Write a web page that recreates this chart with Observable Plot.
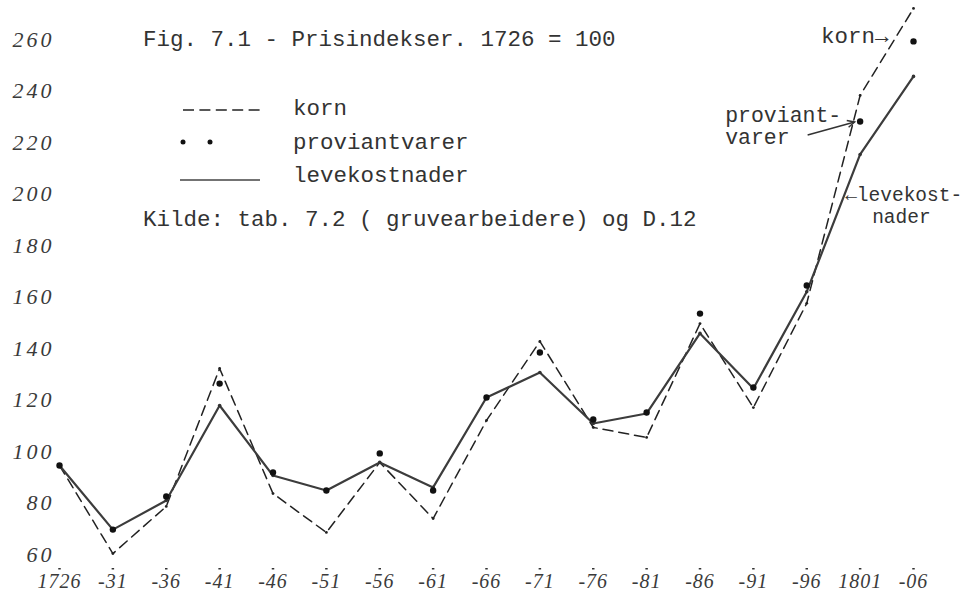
<!DOCTYPE html>
<html>
<head>
<meta charset="utf-8">
<script src="https://cdn.jsdelivr.net/npm/d3@7"></script>
<script src="https://cdn.jsdelivr.net/npm/@observablehq/plot@0.6"></script>
<style>
  html, body { margin: 0; padding: 0; background: #fff; }
  #wrap { position: relative; width: 977px; height: 595px; overflow: hidden; }
  #wrap > svg { position: absolute; left: 0; top: 0; }
  [aria-label="y-axis tick label"] text { letter-spacing: 3px; }
  [aria-label="x-axis tick label"] text { letter-spacing: 1px; }
</style>
</head>
<body>
<div id="wrap"></div>
<script>
// ---- data ----
const years = [1726, 1731, 1736, 1741, 1746, 1751, 1756, 1761, 1766, 1771, 1776, 1781, 1786, 1791, 1796, 1801, 1806];
const xTickLabels = ["1726", "-31", "-36", "-41", "-46", "-51", "-56", "-61", "-66", "-71", "-76", "-81", "-86", "-91", "-96", "1801", "-06"];
const yTicks = [60, 80, 100, 120, 140, 160, 180, 200, 220, 240, 260];
const seriesNames = ["korn", "proviantvarer", "levekostnader"];
const korn          = [100, 65.8, 84.1, 137.7, 89.1, 74.0, 101.2, 79.4, 117.5, 148.2, 114.8, 110.9, 155.1, 122.5, 163.0, 243.7, 277.5];
const proviantvarer = [100, 75.1, 88.0, 131.8, 97.3, 90.3, 104.7, 90.3, 126.4, 143.9, 117.9, 120.6, 159.0, 130.3, 169.9, 233.6, 264.7];
const levekostnader = [100, 75.1, 86.4, 123.3, 96.1, 90.3, 101.2, 91.5, 126.4, 136.1, 116.3, 120.2, 151.3, 129.9, 167.5, 220.8, 251.1];
const titleText = "Fig. 7.1 - Prisindekser. 1726 = 100";
const sourceText = "Kilde: tab. 7.2 ( gruvearbeidere) og D.12";

const rows = years.map((year, i) => ({year, korn: korn[i], prov: proviantvarer[i], lev: levekostnader[i]}));
const last = rows[rows.length - 1];
const prev = rows[rows.length - 2];

const mono = "'Liberation Mono', 'DejaVu Sans Mono', monospace";
const hand = "'Liberation Serif', 'DejaVu Serif', serif";
const ink = "#333";
const fs = 22.5;

const arrowMark = (index, scales) => {
  const x = scales.x(prev.year), y = scales.y(prev.prov);
  const x1 = x - 52, y1 = y + 14, x2 = x - 5, y2 = y + 1;
  const a = Math.atan2(y2 - y1, x2 - x1);
  const g = d3.create("svg:g").attr("stroke", ink).attr("fill", "none").attr("stroke-width", 1.5);
  g.append("line").attr("x1", x1).attr("y1", y1).attr("x2", x2).attr("y2", y2);
  g.append("path").attr("d",
    `M${x2 - 8 * Math.cos(a - 0.45)},${y2 - 8 * Math.sin(a - 0.45)}L${x2},${y2}L${x2 - 8 * Math.cos(a + 0.45)},${y2 - 8 * Math.sin(a + 0.45)}`);
  return g.node();
};

const chart = Plot.plot({
  width: 977,
  height: 595,
  marginLeft: 59,
  marginRight: 64,
  marginTop: 1.5,
  marginBottom: 27,
  style: {background: "#fff", color: ink, overflow: "visible"},
  x: {domain: [1726, 1806], label: null},
  y: {domain: [60, 280], label: null},
  marks: [
    Plot.axisY({ticks: yTicks, tickSize: 0, tickPadding: 5, dy: -14, fontSize: 22, fontFamily: hand, fontStyle: "italic", fill: "#3a3a3a", label: null}),
    Plot.axisX({ticks: years, tickSize: 1.5, strokeWidth: 2.5, tickPadding: 4, fontSize: 20, fontFamily: hand, fontStyle: "italic", fill: "#3a3a3a",
      tickFormat: d => xTickLabels[years.indexOf(d)], label: null}),
    Plot.line(rows, {x: "year", y: "korn", stroke: "#222", strokeWidth: 1.5, strokeDasharray: "10,6"}),
    Plot.line(rows, {x: "year", y: "lev", stroke: "#3c3c3c", strokeWidth: 2.2}),
    Plot.dot(rows, {x: "year", y: "korn", r: 1.4, fill: "#222"}),
    Plot.dot(rows, {x: "year", y: "lev", r: 1.8, fill: "#333"}),
    Plot.dot(rows, {x: "year", y: "prov", r: 3.2, fill: "#111"}),
    Plot.text([last], {x: "year", y: "korn", text: () => seriesNames[0] + "→", dx: -25, dy: 27.8, textAnchor: "end", fontFamily: mono, fontSize: fs, fill: ink}),
    Plot.text([prev], {x: "year", y: "prov", text: () => "proviant-", dx: -135, dy: -6.2, textAnchor: "start", fontFamily: mono, fontSize: 21.5, fill: ink}),
    Plot.text([prev], {x: "year", y: "prov", text: () => "varer", dx: -135, dy: 15.5, textAnchor: "start", fontFamily: mono, fontSize: 21.5, fill: ink}),
    Plot.text([prev], {x: "year", y: "lev", text: () => "←levekost-", dx: -15, dy: 40, textAnchor: "start", fontFamily: mono, fontSize: 19.5, fill: ink}),
    Plot.text([prev], {x: "year", y: "lev", text: () => "nader", dx: 12, dy: 62.5, textAnchor: "start", fontFamily: mono, fontSize: 19.5, fill: ink}),
    arrowMark
  ]
});
document.getElementById("wrap").appendChild(chart);

// ---- title, legend and source (typewritten text above the chart) ----
const ov = d3.select("#wrap").append("svg")
  .attr("width", 977).attr("height", 595)
  .style("pointer-events", "none")
  .attr("font-family", mono).attr("font-size", fs).attr("fill", ink);
ov.append("text").attr("x", 143).attr("y", 46).text(titleText);
ov.append("text").attr("x", 143).attr("y", 226).text(sourceText);
const rowY = [115, 148.5, 182];
seriesNames.forEach((name, i) => {
  ov.append("text").attr("x", 293).attr("y", rowY[i]).text(name);
});
ov.append("line").attr("x1", 183).attr("x2", 260).attr("y1", 110).attr("y2", 110)
  .attr("stroke", "#222").attr("stroke-width", 1.5).attr("stroke-dasharray", "11,5.4");
ov.append("circle").attr("cx", 183).attr("cy", 142).attr("r", 2.5).attr("fill", "#111");
ov.append("circle").attr("cx", 210).attr("cy", 142).attr("r", 2.5).attr("fill", "#111");
ov.append("line").attr("x1", 180).attr("x2", 260).attr("y1", 180).attr("y2", 180)
  .attr("stroke", "#444").attr("stroke-width", 1.3);
</script>
</body>
</html>
